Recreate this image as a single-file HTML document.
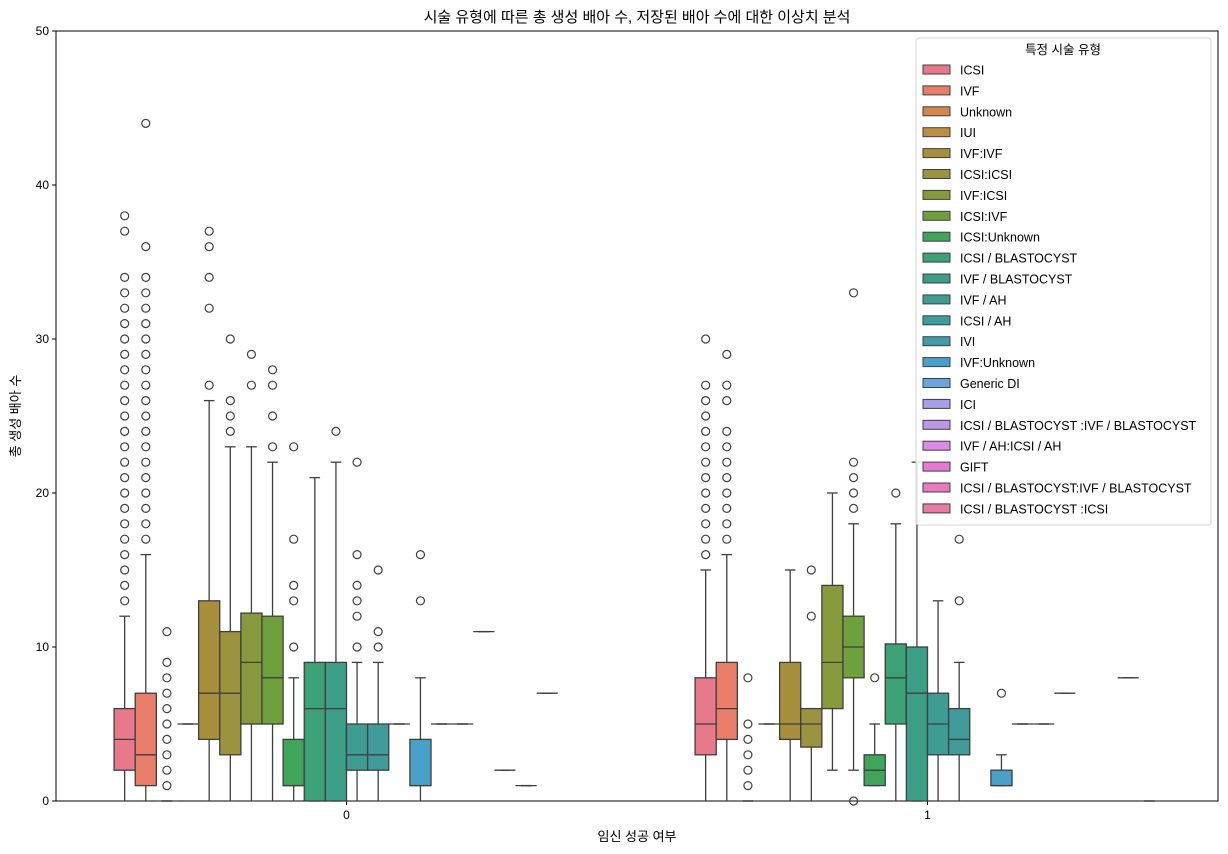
<!DOCTYPE html>
<html><head><meta charset="utf-8">
<style>
body{margin:0;background:#fff;}
svg{display:block;font-family:"Liberation Sans","Noto Sans CJK KR",sans-serif;}
</style></head>
<body>
<svg id="chart" width="1228" height="854" xmlns="http://www.w3.org/2000/svg">
<text x="637" y="22" text-anchor="middle" font-size="15" fill="#000">시술 유형에 따른 총 생성 배아 수, 저장된 배아 수에 대한 이상치 분석</text>
<text transform="translate(20,416) rotate(-90)" text-anchor="middle" font-size="13">총 생성 배아 수</text>
<text x="637" y="841" text-anchor="middle" font-size="13">임신 성공 여부</text>
<g id="plot"></g>
<g id="legend"></g>
</svg>
<script>
const categories=["0","1"];
const hues=["ICSI","IVF","Unknown","IUI","IVF:IVF","ICSI:ICSI","IVF:ICSI","ICSI:IVF","ICSI:Unknown","ICSI / BLASTOCYST","IVF / BLASTOCYST","IVF / AH","ICSI / AH","IVI","IVF:Unknown","Generic DI","ICI","ICSI / BLASTOCYST :IVF / BLASTOCYST","IVF / AH:ICSI / AH","GIFT","ICSI / BLASTOCYST:IVF / BLASTOCYST","ICSI / BLASTOCYST :ICSI"];
const colors=["#e8798a","#e87d6a","#d4874a","#bb8e43","#a78f3e","#9c9340","#88983d","#6ea03e","#3ea55a","#3ca276","#3d9e87","#3f9c92","#409c9b","#429ba8","#49a0c8","#6aa5e0","#a3a2e8","#bc98e6","#d98be6","#e57ad6","#e77bbd","#e77ba3"];
const yTicks=[0,10,20,30,40,50];
// group 0 stats
const g0q1=[2,1,0,5,4,3,5,5,1,0,0,2,2,5,1,5,5,11,2,1,7,null];
const g0med=[4,3,0,5,7,7,9,8,1,6,6,3,3,5,1,5,5,11,2,1,7,null];
const g0q3=[6,7,0,5,13,11,12.2,12,4,9,9,5,5,5,4,5,5,11,2,1,7,null];
const g0lo=[0,0,0,5,0,0,0,0,0,0,0,0,0,5,0,5,5,11,2,1,7,null];
const g0hi=[12,16,0,5,26,23,23,22,8,21,22,9,9,5,8,5,5,11,2,1,7,null];
const g0out=[[13,14,15,16,17,18,19,20,21,22,23,24,25,26,27,28,29,30,31,32,33,34,37,38],[17,18,19,20,21,22,23,24,25,26,27,28,29,30,31,32,33,34,36,44],[1,2,3,4,5,6,7,8,9,11],[],[27,32,34,36,37],[24,25,26,30],[27,29],[23,25,27,28],[10,13,14,17,23],[],[24],[10,12,13,14,16,22],[10,11,15],[],[13,16],[],[],[],[],[],[],[]];
// group 1 stats
const g1q1=[3,4,0,5,4,3.5,6,8,1,5,0,3,3,null,1,5,5,7,null,null,8,0];
const g1med=[5,6,0,5,5,5,9,10,2,8,7,5,4,null,1,5,5,7,null,null,8,0];
const g1q3=[8,9,0,5,9,6,14,12,3,10.2,10,7,6,null,2,5,5,7,null,null,8,0];
const g1lo=[0,0,0,5,0,0,2,2,1,0,0,0,0,null,1,5,5,7,null,null,8,0];
const g1hi=[15,16,0,5,15,6,20,18,5,18,22,13,9,null,3,5,5,7,null,null,8,0];
const g1out=[[16,17,18,19,20,21,22,23,24,25,26,27,30],[17,18,19,20,21,22,23,24,26,27,29],[1,2,3,4,5,8],[],[],[12,15],[],[0,19,20,21,22,33],[8],[20],[],[],[13,17],[],[7],[],[],[],[],[],[],[]];
const groups=[[g0q1,g0med,g0q3,g0lo,g0hi,g0out],[g1q1,g1med,g1q3,g1lo,g1hi,g1out]];

const NS="http://www.w3.org/2000/svg";
const L=56,R=1218,T=31,B=801,ymin=0,ymax=50;
const y=v=>B-(v-ymin)/(ymax-ymin)*(B-T);
const step=(R-L)/categories.length;
const catX=i=>L+step*(i+0.5);
const bw=step*0.8/hues.length;
const hueX=(c,h)=>catX(c)-step*0.4+bw*(h+0.5);
const plot=document.getElementById('plot');
function mk(tag,attrs,parent){const e=document.createElementNS(NS,tag);for(const k in attrs)e.setAttribute(k,attrs[k]);(parent||plot).appendChild(e);return e;}
const lc="#3f3f3f";
// axes frame
const frame=mk('rect',{x:L,y:T,width:R-L,height:B-T,fill:'none',stroke:'#000','stroke-width':1});


yTicks.forEach(t=>{
  mk('line',{x1:L-4,x2:L,y1:y(t),y2:y(t),stroke:'#000'});
  const tx=mk('text',{x:L-7,y:y(t)+4,'text-anchor':'end','font-size':12});
  tx.textContent=t;
  
  
});
categories.forEach((c,i)=>{
  mk('line',{x1:catX(i),x2:catX(i),y1:B,y2:B+4,stroke:'#000'});
  const tx=mk('text',{x:catX(i),y:B+18,'text-anchor':'middle','font-size':12});
  tx.textContent=c;
  
  
});
groups.forEach((g,c)=>{
  const [q1,med,q3,lo,hi,out]=g;
  hues.forEach((h,i)=>{
    if(q1[i]==null)return;
    const cx=hueX(c,i), x0=cx-bw/2;
    const grp=mk('g',{});
    
    
    mk('line',{x1:cx,x2:cx,y1:y(lo[i]),y2:y(q1[i]),stroke:lc,'stroke-width':1.3},grp);
    mk('line',{x1:cx,x2:cx,y1:y(q3[i]),y2:y(hi[i]),stroke:lc,'stroke-width':1.3},grp);
    mk('line',{x1:cx-bw/4,x2:cx+bw/4,y1:y(lo[i]),y2:y(lo[i]),stroke:lc,'stroke-width':1.3},grp);
    mk('line',{x1:cx-bw/4,x2:cx+bw/4,y1:y(hi[i]),y2:y(hi[i]),stroke:lc,'stroke-width':1.3},grp);
    mk('rect',{x:x0,y:y(q3[i]),width:bw,height:Math.max(0,y(q1[i])-y(q3[i])),fill:colors[i],stroke:lc,'stroke-width':1.3},grp);
    mk('line',{x1:x0,x2:x0+bw,y1:y(med[i]),y2:y(med[i]),stroke:lc,'stroke-width':1.3},grp);
    out[i].forEach(v=>{
      const o=mk('circle',{cx:cx,cy:y(v),r:4,fill:'none',stroke:lc,'stroke-width':1.2},grp);
      
      
    });
  });
});
// legend
const lg=document.getElementById('legend');
const lbox=mk('rect',{x:916,y:38,width:295,height:487,fill:'#fff','fill-opacity':0.85,stroke:'#d6d6d6',rx:3},lg);


const lt=mk('text',{x:1063,y:54,'text-anchor':'middle','font-size':12.5},lg);
lt.textContent='특정 시술 유형';


hues.forEach((h,i)=>{
  const yy=70+i*20.9;
  const e=mk('g',{},lg);
  
  
  mk('rect',{x:923,y:yy-5,width:27,height:9,fill:colors[i],stroke:lc,'stroke-width':1},e);
  const t=mk('text',{x:960,y:yy+4.5,'font-size':12.5},e);
  t.textContent=h;
});
</script>
</body></html>
